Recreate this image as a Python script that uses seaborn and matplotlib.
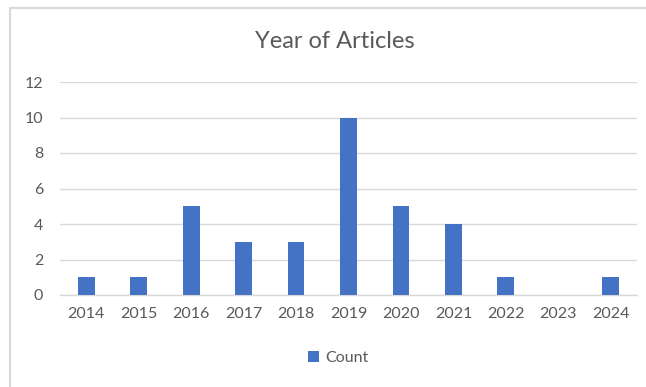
import matplotlib
matplotlib.use("Agg")
import matplotlib.pyplot as plt
import seaborn as sns
import pandas as pd
from matplotlib.patches import Rectangle

years = ["2014", "2015", "2016", "2017", "2018", "2019", "2020", "2021", "2022", "2023", "2024"]
counts = [1, 1, 5, 3, 3, 10, 5, 4, 1, 0, 1]
yticks = [0, 2, 4, 6, 8, 10, 12]

sns.set_theme(style="white")
plt.rcParams["font.family"] = ["Lato", "DejaVu Sans"]

df = pd.DataFrame({"Year": years, "Count": counts})

W, H = 646, 387
fig = plt.figure(figsize=(W / 100, H / 100), dpi=100)
ax = fig.add_axes([60 / W, 1 - 295 / H, (637 - 60) / W, (295 - 82) / H])

sns.barplot(data=df, x="Year", y="Count", color="#4472C4", width=0.32,
            saturation=1, ax=ax, label="Count", zorder=3, linewidth=0)

ax.set_ylim(0, 12)
ax.set_yticks(yticks)
ax.set_xlim(-0.5, len(years) - 0.5)
ax.yaxis.grid(True, color="#D9D9D9", linewidth=1, zorder=0)
ax.set_axisbelow(True)
for s in ["top", "right", "left"]:
    ax.spines[s].set_visible(False)
ax.spines["bottom"].set_color("#D9D9D9")
ax.spines["bottom"].set_linewidth(1)
ax.tick_params(axis="both", length=0, labelsize=11.5, labelcolor="#595959")
ax.tick_params(axis="x", pad=9)
ax.tick_params(axis="y", pad=12)
ax.set_xlabel("")
ax.set_ylabel("")

fig.text(335 / W, 1 - 42 / H, "Year of Articles", ha="center", va="center",
         fontsize=17, color="#595959")

leg = ax.legend(loc="center", bbox_to_anchor=(338 / W, 1 - 358 / H),
                bbox_transform=fig.transFigure, frameon=False, fontsize=11.5,
                handlelength=0.7, handleheight=0.7, handletextpad=0.4)
for t in leg.get_texts():
    t.set_color("#595959")

fig.patches.append(Rectangle((10 / W, -0.1), 1.2, 1.1 - 8 / H, transform=fig.transFigure,
                             fill=False, edgecolor="#D9D9D9", linewidth=1.5))

fig.savefig("out.png", dpi=100)
